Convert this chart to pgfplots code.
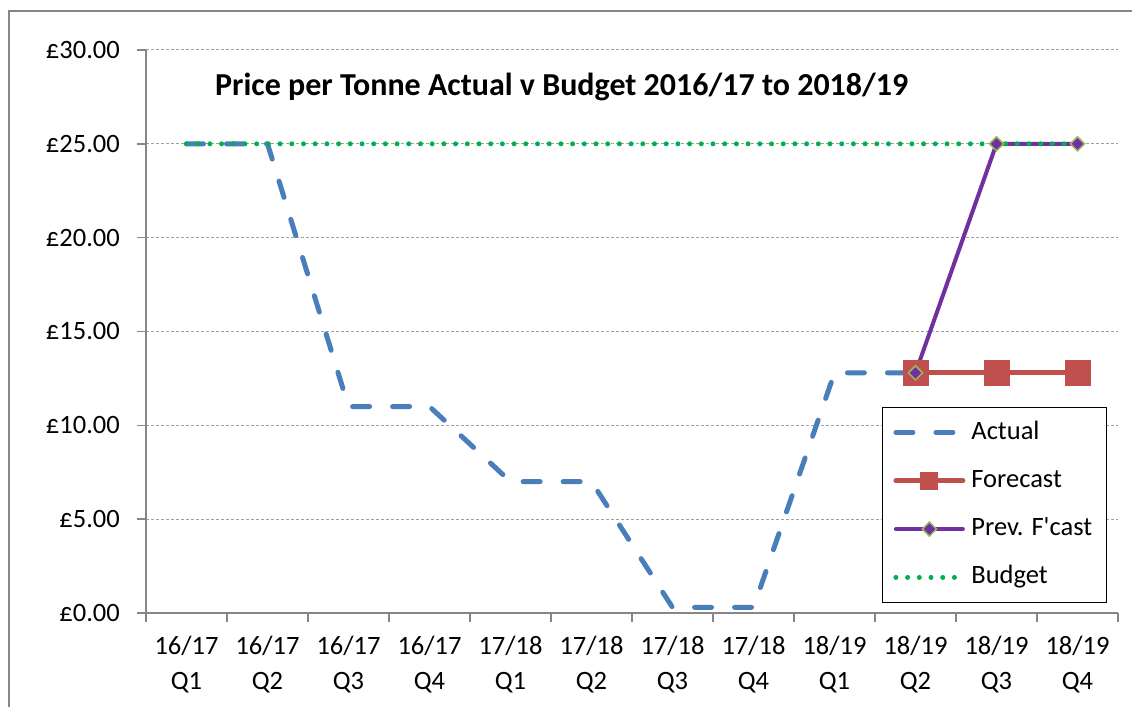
\documentclass[border=0pt]{standalone}
\usepackage{fontspec}
\setmainfont{Carlito}
\usepackage{pgfplots}
\pgfplotsset{compat=1.18}

\definecolor{axisgray}{HTML}{868686}
\definecolor{gridgray}{HTML}{A0A0A0}
\definecolor{actblue}{HTML}{4A7EBB}
\definecolor{fcred}{HTML}{C0504D}
\definecolor{prevpurple}{HTML}{7030A0}
\definecolor{diagreen}{HTML}{9BBB59}
\definecolor{budgreen}{HTML}{00B050}

\newcommand\tkfont{\fontsize{26.5bp}{35bp}\selectfont}
\newcommand\ttlfont{\fontsize{32bp}{36bp}\selectfont\bfseries}

\pgfplotsset{
  actualstyle/.style={actblue, line width=5bp, line cap=round, line join=round, dash pattern=on 17bp off 23bp},
  budgetstyle/.style={budgreen, line width=5bp, line cap=round, dash pattern=on 0bp off 11.7bp},
}

\begin{document}
\begin{tikzpicture}
\useasboundingbox (0,0) rectangle (1132bp,707bp);
\draw[axisgray, line width=1.5bp] (9bp,-20bp) rectangle (1150bp,696bp);
\begin{axis}[
  at={(146bp,94bp)}, anchor=south west,
  width=972bp, height=563bp, scale only axis,
  xmin=-0.5, xmax=11.5, ymin=0, ymax=30,
  axis lines*=left,
  axis line style={axisgray, line width=1.5bp},
  tick align=outside,
  major tick length=9bp,
  tick style={axisgray, line width=1.5bp},
  xtick={-0.5,0.5,...,11.5},
  x tick label as interval,
  xticklabels={16/17\\Q1,16/17\\Q2,16/17\\Q3,16/17\\Q4,17/18\\Q1,17/18\\Q2,17/18\\Q3,17/18\\Q4,18/19\\Q1,18/19\\Q2,18/19\\Q3,18/19\\Q4},
  xticklabel style={font=\tkfont, align=center, anchor=north, inner ysep=0bp, yshift=-14bp},
  ytick={0,5,...,30},
  yticklabels={£0.00,£5.00,£10.00,£15.00,£20.00,£25.00,£30.00},
  yticklabel style={font=\tkfont, anchor=east, inner xsep=0bp, xshift=-17bp},
  ymajorgrids,
  major grid style={gridgray, line width=1bp, dash pattern=on 3bp off 2bp},
  legend image code/.code={
    \pgfinterruptboundingbox
    \draw[mark repeat=2,mark phase=2,#1] plot coordinates {(2.5bp,0bp) (36bp,0bp) (69.5bp,0bp)};
    \endpgfinterruptboundingbox
    \path[draw=none, fill=none] (0bp,-10bp) rectangle (72bp,10bp);
  },
  legend style={at={(0.757,0.366)}, anchor=north west, draw=black, line width=1.2bp,
    font=\tkfont, inner xsep=11bp, inner ysep=13.5bp, row sep=25.3bp, column sep=3bp,
    nodes={inner xsep=3bp, inner ysep=0bp, text height=18bp, text depth=5bp}},
  legend cell align=left,
]
\addplot[actualstyle, forget plot] coordinates {(0,25) (1,25) (2,11) (3,11) (4,7) (5,7) (6,0.3) (7,0.3) (8,12.8) (9,12.8)};
\addplot[fcred, line width=5bp, mark=square*, mark size=12.5bp, mark options={fill=fcred, draw=fcred, line width=0bp}, forget plot]
  coordinates {(9,12.8) (10,12.8) (11,12.8)};
\addplot[prevpurple, line width=4bp, mark=square*, mark size=5bp, mark options={rotate=45, fill=prevpurple, draw=diagreen, line width=1.5bp}, forget plot]
  coordinates {(9,12.8) (10,25) (11,25)};
\addplot[budgetstyle, forget plot] coordinates {(0,25) (1,25) (2,25) (3,25) (4,25) (5,25) (6,25) (7,25) (8,25) (9,25) (10,25) (11,25)};

\addlegendimage{actualstyle}
\addlegendentry{Actual}
\addlegendimage{fcred, line width=5bp, line cap=round, mark=square*, mark size=8.5bp, mark options={fill=fcred, draw=fcred, line width=0bp}}
\addlegendentry{Forecast}
\addlegendimage{prevpurple, line width=4bp, line cap=round, mark=square*, mark size=5bp, mark options={rotate=45, fill=prevpurple, draw=diagreen, line width=1.5bp}}
\addlegendentry{Prev. F\textquotesingle cast}
\addlegendimage{budgetstyle}
\addlegendentry{Budget}

\node[anchor=west, font=\ttlfont, inner sep=0bp] at (axis description cs:0.071,0.934) {Price per Tonne Actual v Budget 2016/17 to 2018/19};
\end{axis}
\end{tikzpicture}
\end{document}
